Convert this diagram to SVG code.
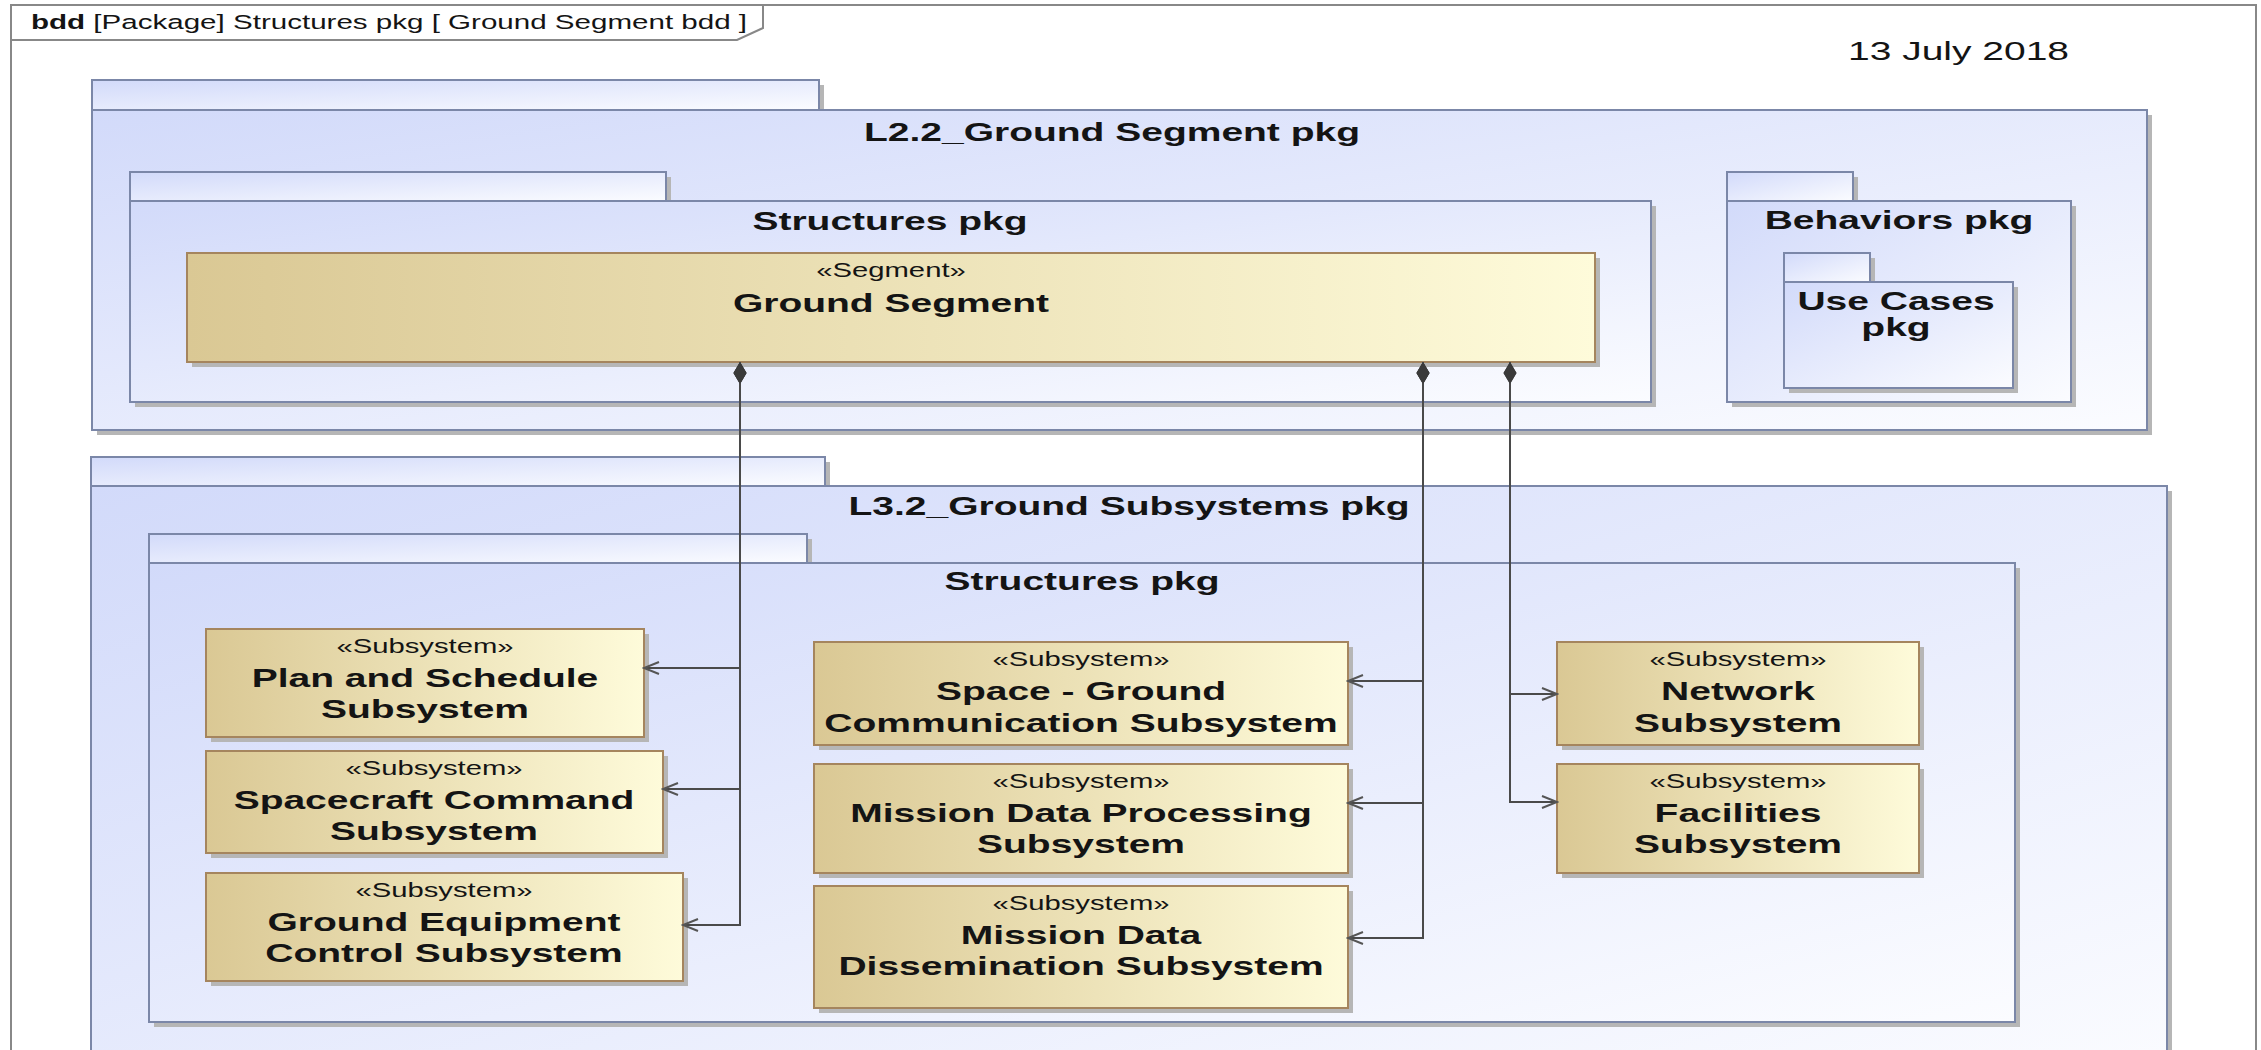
<svg xmlns="http://www.w3.org/2000/svg" width="2261" height="1050" viewBox="0 0 2261 1050">
  <defs>
    <linearGradient id="pkgFill" x1="0" y1="0" x2="1" y2="1">
      <stop offset="0" stop-color="#d2dafa"/>
      <stop offset="1" stop-color="#fbfcff"/>
    </linearGradient>
    <linearGradient id="blockFill" x1="0" y1="0" x2="1" y2="0">
      <stop offset="0" stop-color="#dac894"/>
      <stop offset="1" stop-color="#fefbda"/>
    </linearGradient>
    <marker id="diamond" markerUnits="userSpaceOnUse" viewBox="0 -7 23 14" refX="0" refY="0" markerWidth="23" markerHeight="14" orient="auto">
      <polygon points="0,0 11,-6.5 22,0 11,6.5" fill="#3a3a3a"/>
    </marker>
    <marker id="openArrow" markerUnits="userSpaceOnUse" viewBox="-17 -8 19 16" refX="0" refY="0" markerWidth="19" markerHeight="16" orient="auto">
      <polyline points="-15,-6 0,0 -15,6" fill="none" stroke="#555" stroke-width="2"/>
    </marker>
    <style>
      .frame { fill: #ffffff; stroke: #888888; stroke-width: 2; }
      .pkg { fill: url(#pkgFill); stroke: #7b87a8; stroke-width: 2; }
      .block { fill: url(#blockFill); stroke: #a5855e; stroke-width: 2; }
      .shadow { fill: #b6b6b6; }
      .conn { fill: none; stroke: #4a4a4a; stroke-width: 2; marker-start: url(#diamond); marker-end: url(#openArrow); }
      text { font-family: "Liberation Sans", Arial, sans-serif; fill: #141414; }
      .name { font-size: 26px; font-weight: bold; text-anchor: middle; }
      .stereo { font-size: 19.5px; text-anchor: middle; }
      .hdr { font-size: 19.7px; }
      .date { font-size: 26px; }
    </style>
  </defs>

  <!-- diagram frame with header tab -->
  <g id="frame">
    <rect class="frame" x="11" y="5" width="2245" height="1065"/>
    <path d="M11 40 H737 L763 28 V5" fill="none" stroke="#888888" stroke-width="2"/>
    <text class="hdr" transform="translate(31,29) scale(1.5,1)"><tspan font-weight="bold">bdd</tspan> [Package] Structures pkg [ Ground Segment bdd ]</text>
    <text class="date" transform="translate(1848,60) scale(1.5,1)">13 July 2018</text>
  </g>

  <!-- L2.2 package -->
  <g id="pkg-l22-ground-segment">
    <rect class="shadow" x="97" y="85" width="727" height="30"/>
    <rect class="shadow" x="97" y="115" width="2055" height="320"/>
    <rect class="pkg" x="92" y="80" width="727" height="30"/>
    <rect class="pkg" x="92" y="110" width="2055" height="320"/>
    <text class="name" transform="translate(1112,141) scale(1.5,1)">L2.2_Ground Segment pkg</text>
  </g>

  <g id="pkg-structures-upper">
    <rect class="shadow" x="135" y="177" width="536" height="29"/>
    <rect class="shadow" x="135" y="206" width="1521" height="201"/>
    <rect class="pkg" x="130" y="172" width="536" height="29"/>
    <rect class="pkg" x="130" y="201" width="1521" height="201"/>
    <text class="name" transform="translate(890,230) scale(1.5,1)">Structures pkg</text>
  </g>

  <g id="block-ground-segment">
    <rect class="shadow" x="192" y="258" width="1408" height="109"/>
    <rect class="block" x="187" y="253" width="1408" height="109"/>
    <text class="stereo" transform="translate(891,277) scale(1.5,1)">«Segment»</text>
    <text class="name" transform="translate(891,312) scale(1.5,1)">Ground Segment</text>
  </g>

  <g id="pkg-behaviors">
    <rect class="shadow" x="1732" y="177" width="126" height="29"/>
    <rect class="shadow" x="1732" y="206" width="344" height="201"/>
    <rect class="pkg" x="1727" y="172" width="126" height="29"/>
    <rect class="pkg" x="1727" y="201" width="344" height="201"/>
    <text class="name" transform="translate(1899,229) scale(1.5,1)">Behaviors pkg</text>
  </g>

  <g id="pkg-use-cases">
    <rect class="shadow" x="1789" y="258" width="86" height="29"/>
    <rect class="shadow" x="1789" y="287" width="229" height="106"/>
    <rect class="pkg" x="1784" y="253" width="86" height="29"/>
    <rect class="pkg" x="1784" y="282" width="229" height="106"/>
    <text class="name" transform="translate(1896,310) scale(1.5,1)">Use Cases</text>
    <text class="name" transform="translate(1896,336) scale(1.5,1)">pkg</text>
  </g>

  <!-- L3.2 package -->
  <g id="pkg-l32-ground-subsystems">
    <rect class="shadow" x="96" y="462" width="734" height="29"/>
    <rect class="shadow" x="96" y="491" width="2076" height="600"/>
    <rect class="pkg" x="91" y="457" width="734" height="29"/>
    <rect class="pkg" x="91" y="486" width="2076" height="600"/>
    <text class="name" transform="translate(1129,515) scale(1.5,1)">L3.2_Ground Subsystems pkg</text>
  </g>

  <g id="pkg-structures-lower">
    <rect class="shadow" x="154" y="539" width="658" height="29"/>
    <rect class="shadow" x="154" y="568" width="1866" height="459"/>
    <rect class="pkg" x="149" y="534" width="658" height="29"/>
    <rect class="pkg" x="149" y="563" width="1866" height="459"/>
    <text class="name" transform="translate(1082,590) scale(1.5,1)">Structures pkg</text>
  </g>

  <g id="block-plan-schedule">
    <rect class="shadow" x="211" y="634" width="438" height="108"/>
    <rect class="block" x="206" y="629" width="438" height="108"/>
    <text class="stereo" transform="translate(425,653) scale(1.5,1)">«Subsystem»</text>
    <text class="name" transform="translate(425,687) scale(1.5,1)">Plan and Schedule</text>
    <text class="name" transform="translate(425,718) scale(1.5,1)">Subsystem</text>
  </g>

  <g id="block-spacecraft-command">
    <rect class="shadow" x="211" y="756" width="457" height="102"/>
    <rect class="block" x="206" y="751" width="457" height="102"/>
    <text class="stereo" transform="translate(434,775) scale(1.5,1)">«Subsystem»</text>
    <text class="name" transform="translate(434,809) scale(1.5,1)">Spacecraft Command</text>
    <text class="name" transform="translate(434,840) scale(1.5,1)">Subsystem</text>
  </g>

  <g id="block-ground-equipment-control">
    <rect class="shadow" x="211" y="878" width="477" height="108"/>
    <rect class="block" x="206" y="873" width="477" height="108"/>
    <text class="stereo" transform="translate(444,897) scale(1.5,1)">«Subsystem»</text>
    <text class="name" transform="translate(444,931) scale(1.5,1)">Ground Equipment</text>
    <text class="name" transform="translate(444,962) scale(1.5,1)">Control Subsystem</text>
  </g>

  <g id="block-space-ground-communication">
    <rect class="shadow" x="819" y="647" width="534" height="103"/>
    <rect class="block" x="814" y="642" width="534" height="103"/>
    <text class="stereo" transform="translate(1081,666) scale(1.5,1)">«Subsystem»</text>
    <text class="name" transform="translate(1081,700) scale(1.5,1)">Space - Ground</text>
    <text class="name" transform="translate(1081,732) scale(1.5,1)">Communication Subsystem</text>
  </g>

  <g id="block-mission-data-processing">
    <rect class="shadow" x="819" y="769" width="534" height="109"/>
    <rect class="block" x="814" y="764" width="534" height="109"/>
    <text class="stereo" transform="translate(1081,788) scale(1.5,1)">«Subsystem»</text>
    <text class="name" transform="translate(1081,822) scale(1.5,1)">Mission Data Processing</text>
    <text class="name" transform="translate(1081,853) scale(1.5,1)">Subsystem</text>
  </g>

  <g id="block-mission-data-dissemination">
    <rect class="shadow" x="819" y="891" width="534" height="122"/>
    <rect class="block" x="814" y="886" width="534" height="122"/>
    <text class="stereo" transform="translate(1081,910) scale(1.5,1)">«Subsystem»</text>
    <text class="name" transform="translate(1081,944) scale(1.5,1)">Mission Data</text>
    <text class="name" transform="translate(1081,975) scale(1.5,1)">Dissemination Subsystem</text>
  </g>

  <g id="block-network">
    <rect class="shadow" x="1562" y="647" width="362" height="103"/>
    <rect class="block" x="1557" y="642" width="362" height="103"/>
    <text class="stereo" transform="translate(1738,666) scale(1.5,1)">«Subsystem»</text>
    <text class="name" transform="translate(1738,700) scale(1.5,1)">Network</text>
    <text class="name" transform="translate(1738,732) scale(1.5,1)">Subsystem</text>
  </g>

  <g id="block-facilities">
    <rect class="shadow" x="1562" y="769" width="362" height="109"/>
    <rect class="block" x="1557" y="764" width="362" height="109"/>
    <text class="stereo" transform="translate(1738,788) scale(1.5,1)">«Subsystem»</text>
    <text class="name" transform="translate(1738,822) scale(1.5,1)">Facilities</text>
    <text class="name" transform="translate(1738,853) scale(1.5,1)">Subsystem</text>
  </g>

  <!-- composition associations from Ground Segment to its subsystems -->
  <g id="connectors">
    <path class="conn" d="M740 362 V668 H644"/>
    <path class="conn" d="M740 362 V789 H663"/>
    <path class="conn" d="M740 362 V925 H683"/>
    <path class="conn" d="M1423 362 V681 H1348"/>
    <path class="conn" d="M1423 362 V803 H1348"/>
    <path class="conn" d="M1423 362 V938 H1348"/>
    <path class="conn" d="M1510 362 V694 H1557"/>
    <path class="conn" d="M1510 362 V802 H1557"/>
  </g>
</svg>
